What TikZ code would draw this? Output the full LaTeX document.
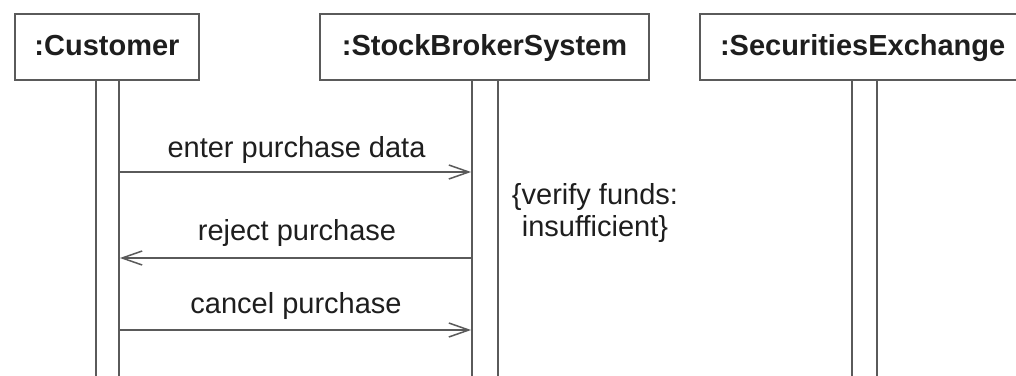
\documentclass[tikz,border=0pt]{standalone}
\usepackage{fontspec}
\setmainfont{Liberation Sans}
\usetikzlibrary{arrows.meta}
\definecolor{linegray}{HTML}{5A5A5A}
\definecolor{txt}{HTML}{1E1E1E}
\tikzset{
  lifebox/.style={draw=linegray, line width=1.8pt, fill=white, rectangle, inner sep=0pt,
    minimum height=66pt, text height=21pt, text depth=5pt, text=txt,
    font=\fontsize{29}{34}\selectfont\bfseries},
  actbar/.style={draw=linegray, line width=1.8pt, fill=white, rectangle, inner sep=0pt, minimum width=23pt, minimum height=310pt},
  msg/.style={draw=linegray, line width=1.5pt, -{Straight Barb[length=20pt,width=14pt,line width=1.5pt]}},
  msglabel/.style={anchor=base, inner sep=0pt, text=txt, font=\fontsize{29}{34}\selectfont},
  notetext/.style={anchor=north, inner sep=0pt, text=txt, align=center, font=\fontsize{29}{32}\selectfont}
}
\begin{document}
\begin{tikzpicture}[x=1pt,y=-1pt]
\clip (0,0) rectangle (1016,375);
\fill[white] (0,0) rectangle (1016,375);
% activation bars
\node[actbar] (cb) at (107.5,235) {};
\node[actbar, minimum width=26pt] (sb) at (485,235) {};
\node[actbar, minimum width=25pt] (eb) at (864.5,235) {};
% lifeline heads
\node[lifebox, minimum width=184pt] (cust) at (107,47) {:Customer};
\node[lifebox, minimum width=329pt] (sbs) at (484.5,47) {:StockBrokerSystem};
\node[lifebox, minimum width=340pt, text width=300pt, align=left] (sec) at (870,47) {:SecuritiesExchange};
% messages
\draw[msg] (cb.east |- 0,172) -- (sb.west |- 0,172);
\node[msglabel] (l1) at (296.5,157) {enter purchase data};
\draw[msg] (sb.west |- 0,258) -- (cb.east |- 0,258);
\node[msglabel] (l2) at (297,240) {reject purchase};
\draw[msg] (cb.east |- 0,330) -- (sb.west |- 0,330);
\node[msglabel] (l3) at (296,313) {cancel purchase};
% constraint note
\node[notetext] (note) at (595,183) {\{verify funds:\\insufficient\}};
\end{tikzpicture}
\end{document}
